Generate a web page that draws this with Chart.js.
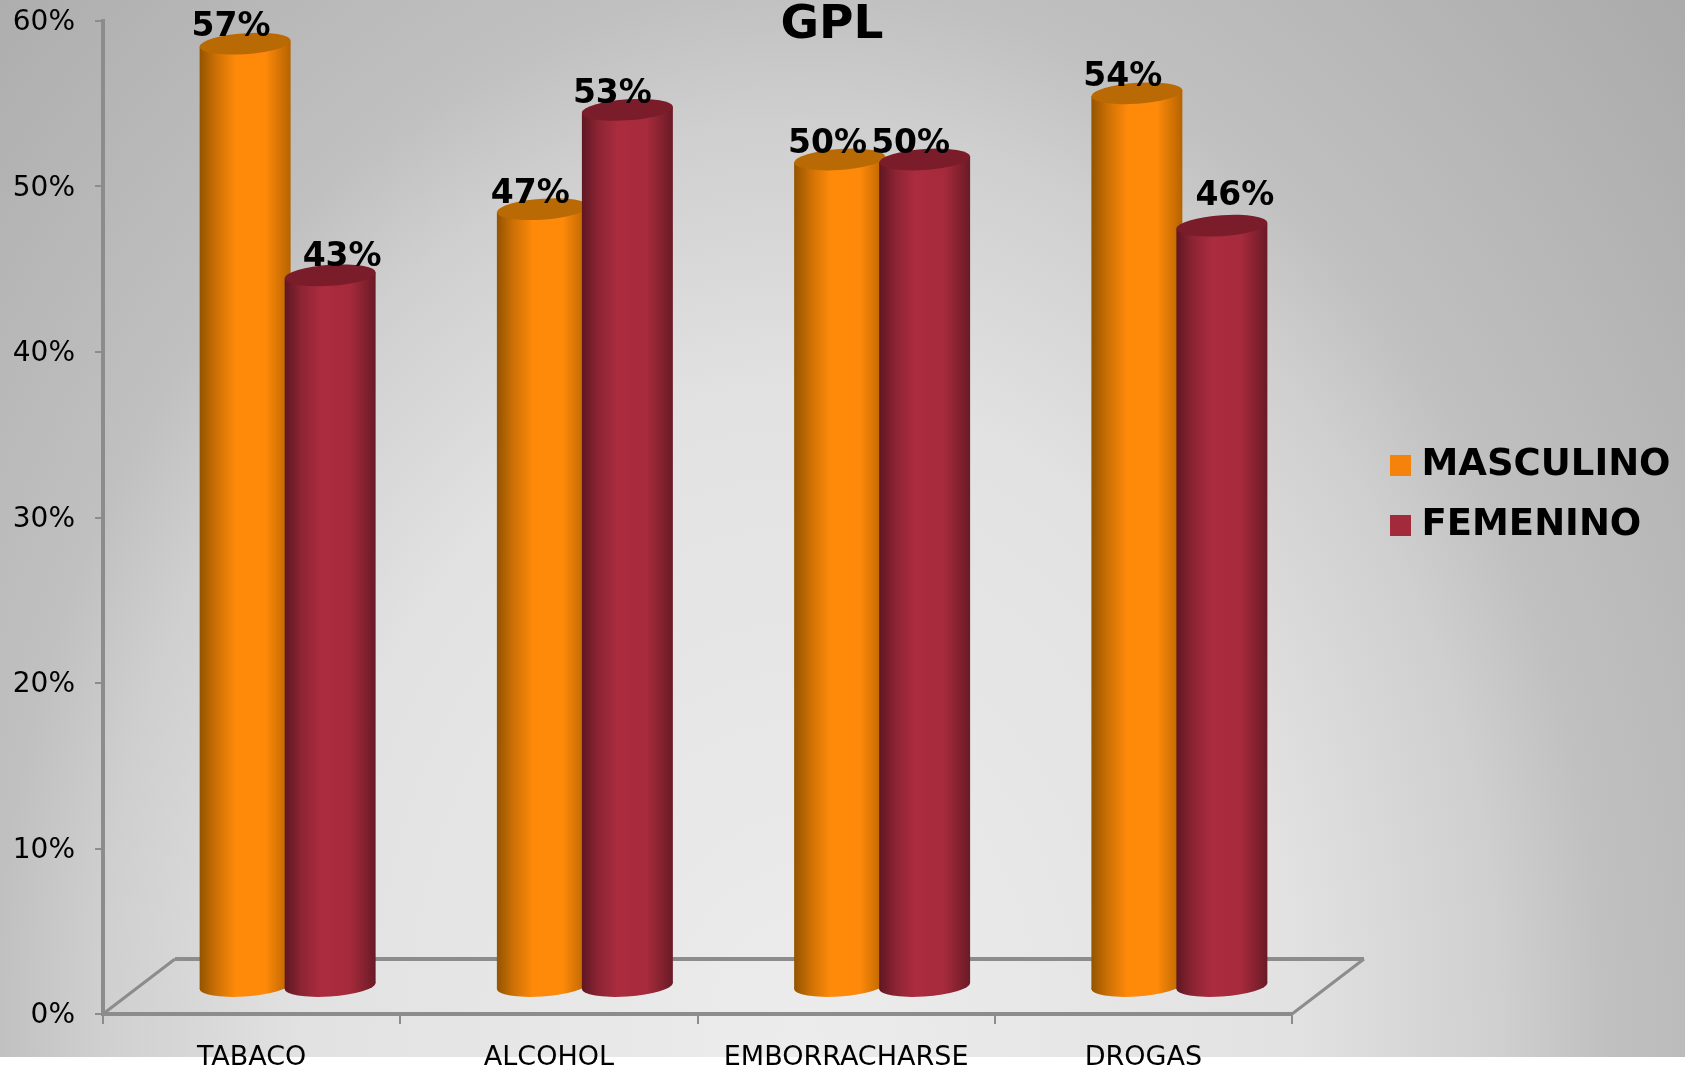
<!DOCTYPE html>
<html><head><meta charset="utf-8">
<style>html,body{margin:0;padding:0;background:#fff}canvas{display:block}</style>
<script src="https://cdn.jsdelivr.net/npm/chart.js@4"></script>
</head><body><canvas id="c" width="1688" height="1073"></canvas>
<script>
const categories = ['TABACO','ALCOHOL','EMBORRACHARSE','DROGAS'];
const masculino = [57,47,50,54];
const femenino = [43,53,50,46];
const yTicks = [0,10,20,30,40,50,60];

const FONT='"DejaVu Sans"';
const catPct=0.572, barPct=1.07;
const depth={dx:36,dy:-27}, floor={dx:72,dy:-55};
const shear=-6/91, ry=10.5;
const colors=[
 {flat:'#f5820a',top:'#b96a05',stops:['#945400','#cc7005','#ff8a0a','#ff8a0a','#b56300']},
 {flat:'#a32a3a',top:'#7b1c2a',stops:['#5f1722','#8c2433','#ab2c3f','#a52a3b','#6a1a26']}
];
const labelShift=[
 [[-14,-16],[-12,-15],[-12,-15],[-14,-16]],
 [[12,-18],[-15,-15],[-14,-15],[13,-29]]
];
function barGrad(ctx,x0,x1,stops){
  const g=ctx.createLinearGradient(x0,0,x1,0);
  const pos=[0,0.18,0.4,0.72,1];
  stops.forEach((s,i)=>g.addColorStop(pos[i],s));
  return g;
}
function bgFill(c){
  const chart=c.chart, xs=chart.scales.x;
  if(!xs) return colors[c.datasetIndex].flat;
  const w=xs.width/categories.length*catPct/2;
  const cx=xs.getPixelForValue(c.dataIndex)+(c.datasetIndex===0?-w/2:w/2);
  const bw=w*barPct;
  return barGrad(chart.ctx,cx-bw/2,cx+bw/2,colors[c.datasetIndex].stops);
}
const cyl={
  id:'cyl',
  beforeDraw(chart){
    const ctx=chart.ctx;
    ctx.save();
    const g=ctx.createRadialGradient(0,0,0,0,0,1);
    g.addColorStop(0,'#ececec');g.addColorStop(0.38,'#e2e2e2');g.addColorStop(0.54,'#cfcfcf');
    g.addColorStop(0.62,'#c0c0c0');g.addColorStop(0.78,'#b4b4b4');g.addColorStop(1,'#a4a4a4');
    ctx.beginPath();ctx.rect(0,0,1685,1057);ctx.clip();
    ctx.translate(800,1040);ctx.scale(1300,1700);
    ctx.fillStyle=g;ctx.fillRect(-2,-2,4,4);
    ctx.restore();
  },
  afterLayout(chart){
    const l=chart.legend;
    const w=l.width,h=l.height;
    l.left=1375;l.right=l.left+w;l.top=424;l.bottom=l.top+h;
    const t=chart.titleBlock;
    t.left=0;t.right=1664;t.top=5;t.bottom=26;
  },
  beforeDatasetsDraw(chart){
    const ctx=chart.ctx,x=chart.scales.x,y=chart.scales.y;
    const b=y.getPixelForValue(0);
    ctx.save();
    ctx.strokeStyle='#8c8c8c';
    ctx.lineWidth=3;
    ctx.beginPath();
    ctx.moveTo(x.left,b);ctx.lineTo(x.left+floor.dx,b+floor.dy);
    ctx.moveTo(x.right,b);ctx.lineTo(x.right+floor.dx,b+floor.dy);
    ctx.stroke();
    ctx.lineWidth=4;
    ctx.beginPath();
    ctx.moveTo(x.left+floor.dx,b+floor.dy);ctx.lineTo(x.right+floor.dx,b+floor.dy);
    ctx.stroke();
    ctx.restore();
    [0,1].forEach(i=>{
      chart.getDatasetMeta(i).data.forEach(el=>{
        const p=el.getProps(['x','y','base','width'],true);
        const rx=p.width/2;
        ctx.save();
        ctx.translate(depth.dx,depth.dy);
        ctx.translate(p.x,0);ctx.transform(1,shear,0,1,0,0);ctx.translate(-p.x,0);
        ctx.fillStyle=el.options.backgroundColor;
        ctx.beginPath();ctx.ellipse(p.x,p.base,rx,ry,0,0,Math.PI*2);ctx.fill();
        el.draw(ctx);
        ctx.fillStyle=colors[i].top;
        ctx.beginPath();ctx.ellipse(p.x,p.y,rx,ry,0,0,Math.PI*2);ctx.fill();
        ctx.restore();
      });
    });
  },
  beforeDatasetDraw(){return false;},
  afterDatasetsDraw(chart){
    const ctx=chart.ctx;
    ctx.save();
    ctx.font='bold 33px '+FONT;
    ctx.fillStyle='#000';ctx.textAlign='center';ctx.textBaseline='middle';
    [0,1].forEach(i=>{
      chart.getDatasetMeta(i).data.forEach((el,j)=>{
        const p=el.getProps(['x','y'],true);
        const s=labelShift[i][j];
        ctx.fillText(chart.data.datasets[i].data[j]+'%',p.x+depth.dx+s[0],p.y+depth.dy+s[1]);
      });
    });
    ctx.restore();
  }
};
new Chart(document.getElementById('c'),{
  type:'bar',
  data:{labels:categories,datasets:[
    {label:'MASCULINO',data:masculino,backgroundColor:bgFill,borderWidth:0},
    {label:'FEMENINO',data:femenino,backgroundColor:bgFill,borderWidth:0}
  ]},
  plugins:[cyl],
  options:{
    responsive:false,animation:false,
    categoryPercentage:catPct,barPercentage:barPct,
    layout:{padding:{left:0,right:396,top:0,bottom:0},autoPadding:false},
    plugins:{
      tooltip:{enabled:false},
      title:{display:true,text:'GPL',color:'#000',font:{family:FONT,size:47,weight:'bold',lineHeight:1},padding:{top:-2.5,bottom:-23.5}},
      legend:{position:'chartArea',align:'start',labels:{
        font:{family:FONT,size:37,weight:'bold'},color:'#000',boxWidth:5,boxHeight:21,padding:23,usePointStyle:true,
        generateLabels(chart){
          return chart.data.datasets.map((d,i)=>({text:d.label,fillStyle:colors[i].flat,strokeStyle:colors[i].flat,lineWidth:0,pointStyle:'rect',datasetIndex:i,hidden:false}));
        }
      }}
    },
    scales:{
      x:{
        afterFit(s){s.height=59;},
        grid:{display:true,drawOnChartArea:false,color:'#8c8c8c',lineWidth:2,tickLength:10,offset:true},
        border:{display:true,color:'#8c8c8c',width:4},
        ticks:{color:'#000',font:{family:FONT,size:27},padding:18,maxRotation:0,autoSkip:false}
      },
      y:{
        min:0,max:60,
        afterFit(s){s.width=103;s.paddingTop=0;s.paddingBottom=0;},
        afterBuildTicks(s){s.ticks=yTicks.map(v=>({value:v}));},
        grid:{display:true,drawOnChartArea:false,color:'#8c8c8c',lineWidth:2,tickLength:8},
        border:{display:true,color:'#8c8c8c',width:4},
        ticks:{color:'#000',font:{family:FONT,size:28},padding:20,labelOffset:2,callback:v=>v+'%'}
      }
    }
  }
});
</script></body></html>
